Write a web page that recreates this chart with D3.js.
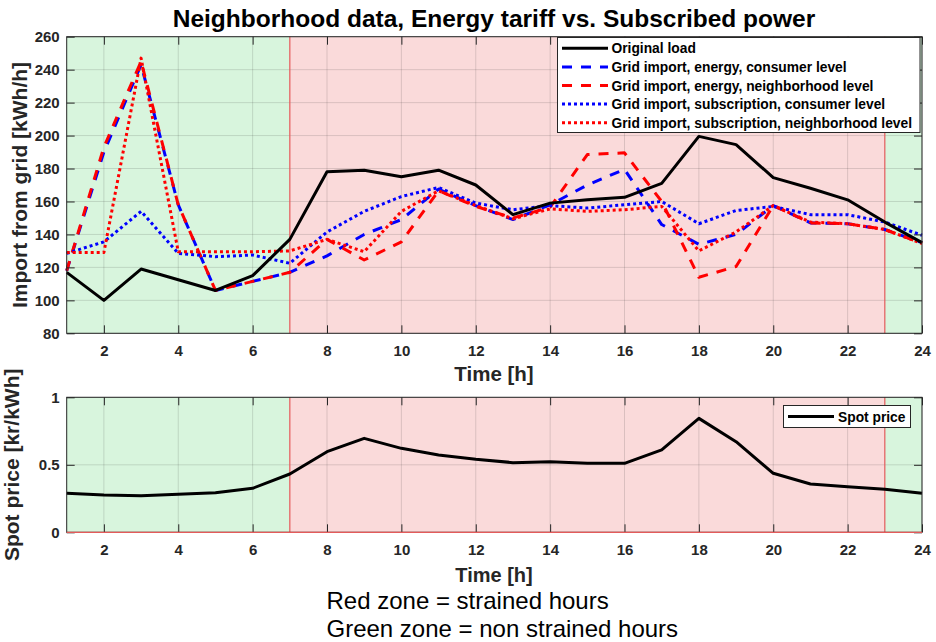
<!DOCTYPE html>
<html>
<head>
<meta charset="utf-8">
<script src="https://cdn.jsdelivr.net/npm/d3@7"></script>
<style>
  html, body { margin: 0; padding: 0; background: #fff; }
  svg { display: block; }
  text { font-family: "Liberation Sans", Arial, Helvetica, sans-serif; }
</style>
</head>
<body>
<svg id="chart" width="936" height="642"></svg>
<script>
// ---------------- data ----------------
const hours = [1,2,3,4,5,6,7,8,9,10,11,12,13,14,15,16,17,18,19,20,21,22,23,24];
const originalLoad = [117, 100, 119, 112.5, 106, 115, 137, 178, 179, 175, 179, 170, 152, 159, 161, 162.5, 171, 199.5, 194.5, 174.5, 168, 161, 147.5, 135];
const energyConsumer = [118, 190, 243, 158, 106, 111.5, 117, 127, 140, 149, 167.5, 157.5, 149, 158, 170, 179.5, 146, 134, 140, 157.5, 147, 146.5, 143, 135];
const energyNeighborhood = [118, 193, 245, 158, 106, 111.5, 117, 137, 124.5, 135.5, 166.5, 157, 150, 156.5, 188.5, 189.5, 160, 114, 120.5, 157.5, 147, 146.5, 143, 134.5];
const subscriptionConsumer = [128.5, 135.5, 154, 128.5, 126.5, 127.5, 122.5, 141.5, 154, 163, 168.5, 159, 155, 157.5, 156, 158, 160, 146.5, 154.5, 157, 152, 152, 147.5, 139.5];
const subscriptionNeighborhood = [129, 129, 247, 129.5, 129.5, 129.5, 130, 137, 129.5, 154, 166.5, 157.5, 149.5, 155.5, 154, 155, 157, 130, 141.5, 157.5, 147.5, 146.5, 143, 134.5];
const spotPrice = [0.289, 0.276, 0.271, 0.281, 0.293, 0.326, 0.432, 0.597, 0.696, 0.622, 0.573, 0.541, 0.516, 0.523, 0.511, 0.511, 0.610, 0.844, 0.671, 0.437, 0.358, 0.338, 0.319, 0.289];

const zoneStart = [1, 7, 23];
const zoneEnd = [7, 23, 24];
const zoneType = ["green", "red", "green"];

const xTicks = [2,4,6,8,10,12,14,16,18,20,22,24];
const yTopTicks = [80,100,120,140,160,180,200,220,240,260];
const yBotTicks = [0, 0.5, 1];

const seriesNames = ["Original load", "Grid import, energy, consumer level", "Grid import, energy, neighborhood level", "Grid import, subscription, consumer level", "Grid import, subscription, neighborhood level"];

// ---------------- styles ----------------
const styles = [
  {data: originalLoad, color: "#000000", dash: null, width: 3},
  {data: energyConsumer, color: "#0000ff", dash: "10,9", width: 3},
  {data: energyNeighborhood, color: "#ff0000", dash: "10,9", width: 3},
  {data: subscriptionConsumer, color: "#0000ff", dash: "3,3", width: 3},
  {data: subscriptionNeighborhood, color: "#ff0000", dash: "3,3", width: 3}
];
const drawOrder = [1, 2, 3, 4, 0];
const zoneFill = {green: "#d8f5dd", red: "#fadada"};
const axisColor = "#262626";
const gridColor = "rgba(38,38,38,0.15)";
const font = '"Liberation Sans", Arial, Helvetica, sans-serif';

const svg = d3.select("#chart");

const x = d3.scaleLinear().domain([1, 24]).range([66.7, 922]);
const yTop = d3.scaleLinear().domain([80, 260]).range([333.3, 36.7]);
const yBot = d3.scaleLinear().domain([0, 1]).range([532.3, 397.3]);

function drawPanel(y, yTicks) {
  const g = svg.append("g");
  const [y0, y1] = y.range();
  const [x0, x1] = x.range();
  zoneStart.forEach((s, i) => {
    g.append("rect")
      .attr("x", x(s)).attr("y", y1)
      .attr("width", x(zoneEnd[i]) - x(s)).attr("height", y0 - y1)
      .attr("fill", zoneFill[zoneType[i]])
      .attr("stroke", "none");
  });
  xTicks.forEach(t => {
    g.append("line").attr("x1", x(t)).attr("x2", x(t)).attr("y1", y0).attr("y2", y1)
      .attr("stroke", gridColor).attr("stroke-width", 1);
  });
  yTicks.forEach(t => {
    g.append("line").attr("x1", x0).attr("x2", x1).attr("y1", y(t)).attr("y2", y(t))
      .attr("stroke", gridColor).attr("stroke-width", 1);
  });
  [7, 23].forEach(t => {
    g.append("line").attr("x1", x(t)).attr("x2", x(t)).attr("y1", y0).attr("y2", y1)
      .attr("stroke", "#e45a5a").attr("stroke-width", 1.2);
  });
  return g;
}

function drawAxes(y, yTicks, yFmt, bottomRed) {
  const [y0, y1] = y.range();
  const [x0, x1] = x.range();
  const ax = svg.append("g");
  ax.append("g").attr("transform", `translate(0,${y0})`)
    .call(d3.axisBottom(x).tickValues(xTicks).tickSize(-8).tickSizeOuter(0).tickPadding(12));
  ax.append("g").attr("transform", `translate(0,${y1})`)
    .call(d3.axisTop(x).tickValues(xTicks).tickSize(-8).tickSizeOuter(0).tickFormat(""));
  ax.append("g").attr("transform", `translate(${x0},0)`)
    .call(d3.axisLeft(y).tickValues(yTicks).tickSize(-8).tickSizeOuter(0).tickPadding(7).tickFormat(yFmt));
  ax.append("g").attr("transform", `translate(${x1},0)`)
    .call(d3.axisRight(y).tickValues(yTicks).tickSize(-8).tickSizeOuter(0).tickFormat(""));
  ax.selectAll(".domain").remove();
  ax.selectAll(".tick line").attr("stroke", axisColor).attr("stroke-width", 1);
  ax.selectAll(".tick text").attr("fill", axisColor)
    .style("font-family", font).style("font-size", "15px").style("font-weight", "bold");
  ax.append("rect").attr("x", x0).attr("y", y1).attr("width", x1 - x0).attr("height", y0 - y1)
    .attr("fill", "none").attr("stroke", axisColor).attr("stroke-width", 1);
  if (bottomRed) {
    ax.append("line").attr("x1", x0).attr("x2", x1).attr("y1", y0).attr("y2", y0)
      .attr("stroke", "#e45a5a").attr("stroke-width", 1.2);
  }
}

// ---------------- top panel ----------------
const gTop = drawPanel(yTop, yTopTicks);
const line = (y) => d3.line().x((d, i) => x(hours[i])).y(d => y(d));
drawOrder.forEach(k => {
  const s = styles[k];
  gTop.append("path").datum(s.data)
    .attr("d", line(yTop))
    .attr("fill", "none")
    .attr("stroke", s.color)
    .attr("stroke-width", s.width)
    .attr("stroke-dasharray", s.dash)
    .attr("stroke-linejoin", "round");
});
drawAxes(yTop, yTopTicks, d3.format("d"), false);

const lg = svg.append("g");
lg.append("rect").attr("x", 557.5).attr("y", 37.5).attr("width", 362.5).attr("height", 95)
  .attr("fill", "#fff").attr("stroke", axisColor).attr("stroke-width", 1);
seriesNames.forEach((name, i) => {
  const yy = 48.3 + i * 18.6;
  const s = styles[i];
  lg.append("line").attr("x1", 562).attr("x2", 608).attr("y1", yy).attr("y2", yy)
    .attr("stroke", s.color).attr("stroke-width", s.width).attr("stroke-dasharray", s.dash);
  lg.append("text").attr("x", 611.5).attr("y", yy + 5)
    .style("font-size", "13.8px").style("font-weight", "bold").attr("fill", "#000").text(name);
});

// ---------------- bottom panel ----------------
const gBot = drawPanel(yBot, yBotTicks);
gBot.append("path").datum(spotPrice)
  .attr("d", line(yBot))
  .attr("fill", "none").attr("stroke", "#000").attr("stroke-width", 3).attr("stroke-linejoin", "round");
drawAxes(yBot, yBotTicks, d => d === 0.5 ? "0.5" : d3.format("d")(d), true);

const lg2 = svg.append("g");
lg2.append("rect").attr("x", 783.5).attr("y", 405.5).attr("width", 127).attr("height", 22)
  .attr("fill", "#fff").attr("stroke", axisColor).attr("stroke-width", 1);
lg2.append("line").attr("x1", 788).attr("x2", 834).attr("y1", 416.5).attr("y2", 416.5)
  .attr("stroke", "#000").attr("stroke-width", 3);
lg2.append("text").attr("x", 838).attr("y", 421.5)
  .style("font-size", "13.8px").style("font-weight", "bold").attr("fill", "#000").text("Spot price");

// ---------------- labels ----------------
svg.append("text").attr("x", 494).attr("y", 27).attr("text-anchor", "middle")
  .style("font-size", "24.5px").style("font-weight", "bold").attr("fill", "#000")
  .text("Neighborhood data, Energy tariff vs. Subscribed power");
svg.append("text").attr("x", 494).attr("y", 381).attr("text-anchor", "middle")
  .style("font-size", "20.5px").style("font-weight", "bold").attr("fill", axisColor).text("Time [h]");
svg.append("text").attr("x", 494).attr("y", 582).attr("text-anchor", "middle")
  .style("font-size", "20px").style("font-weight", "bold").attr("fill", axisColor).text("Time [h]");
svg.append("text").attr("transform", `translate(27,${(36.7 + 333.3) / 2}) rotate(-90)`).attr("text-anchor", "middle")
  .style("font-size", "21px").style("font-weight", "bold").attr("fill", axisColor).text("Import from grid [kWh/h]");
svg.append("text").attr("transform", `translate(19,${(397.3 + 532.3) / 2}) rotate(-90)`).attr("text-anchor", "middle")
  .style("font-size", "21px").style("font-weight", "bold").attr("fill", axisColor).text("Spot price [kr/kWh]");

svg.append("text").attr("x", 326.5).attr("y", 609).style("font-size", "24px").attr("fill", "#000")
  .text("Red zone = strained hours");
svg.append("text").attr("x", 326.5).attr("y", 637).style("font-size", "24px").attr("fill", "#000")
  .text("Green zone = non strained hours");
</script>
</body>
</html>
